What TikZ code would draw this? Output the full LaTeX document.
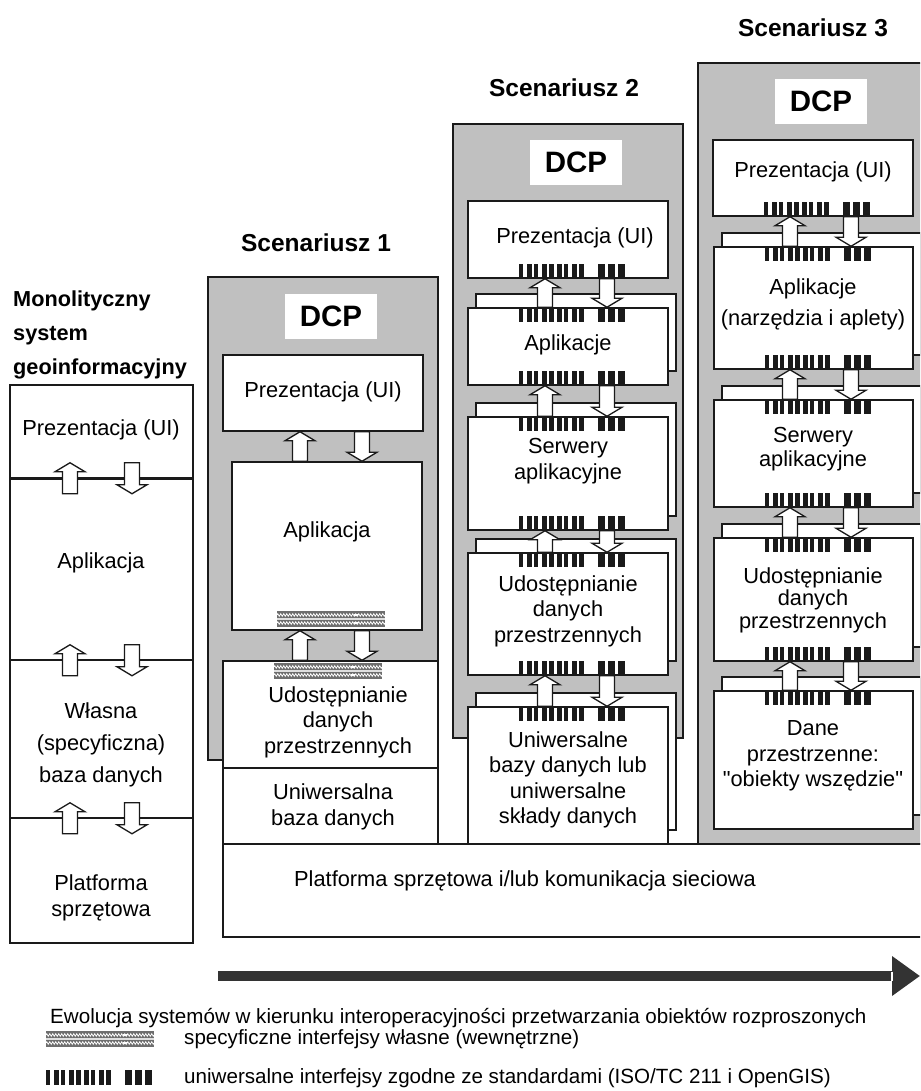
\documentclass[tikz,border=0pt]{standalone}
\usepackage{fontspec}
\setmainfont{Liberation Sans}
\newfontfamily\plainquotes{Liberation Sans}
\usetikzlibrary{calc,fit,arrows.meta,decorations.pathmorphing}

\definecolor{panel}{HTML}{C0C0C0}
\definecolor{ink}{HTML}{1A1A1A}
\definecolor{evo}{HTML}{333333}
\definecolor{rope}{HTML}{6E6E6E}

\tikzset{
  box/.style={draw=ink, line width=1.5pt, fill=white, inner sep=0pt},
  panelbox/.style={draw=ink, line width=1.8pt, fill=panel, inner sep=0pt},
  dcpbox/.style={fill=white, inner sep=0pt},
  lbl/.style={font=\fontsize{21.8}{25.5}\selectfont, align=center, inner sep=0pt},
  ttl/.style={font=\fontsize{21.7}{34}\selectfont\bfseries, inner sep=0pt},
  sttl/.style={font=\fontsize{24.5}{28}\selectfont\bfseries, inner sep=0pt},
  dcp/.style={font=\fontsize{29.5}{32}\selectfont\bfseries, inner sep=0pt},
  blockarrow/.style={draw=ink, line width=1.3pt, fill=white, line join=miter},
  legendtxt/.style={font=\fontsize{20.6}{24}\selectfont, inner sep=0pt, anchor=west},
}

% hollow block arrow pointing up: #1 base point, #2 tip point
\newcommand\uparr[2]{%
  \path #1 coordinate (ab) #2 coordinate (at);
  \draw[blockarrow] ($(ab)+(-7.5,0)$) -- ($(at)+(-7.5,9)$) -- ($(at)+(-15,9)$) -- (at)
    -- ($(at)+(15,9)$) -- ($(at)+(7.5,9)$) -- ($(ab)+(7.5,0)$) -- cycle;}
% hollow block arrow pointing down: #1 base point, #2 tip point
\newcommand\dnarr[2]{%
  \path #1 coordinate (db) #2 coordinate (dt);
  \draw[blockarrow] ($(db)+(-7.5,0)$) -- ($(dt)+(-7.5,-9)$) -- ($(dt)+(-15,-9)$) -- (dt)
    -- ($(dt)+(15,-9)$) -- ($(dt)+(7.5,-9)$) -- ($(db)+(7.5,0)$) -- cycle;}

% standard interface: bar pattern, top-left corner given
\newcommand\barcode[1]{%
  \begin{scope}[shift={#1}]
    \foreach \a/\w in {0/4,7.5/5,15/4,22.5/5,30/5,37.5/5,45/4,52.5/5,60/4.5,79/6.5,89/6.5,99/6.5}
      \fill[ink] (\a,0) rectangle ++(\w,15);
  \end{scope}}
\newcommand\barstop[1]{\barcode{($(#1.north west)+(52,0)$)}}
\newcommand\barsbot[1]{\barcode{($(#1.south west)+(52,-15)$)}}

% proprietary interface: twisted rope pattern, top-left corner given
\newcommand\rope[1]{%
  \begin{scope}[shift={#1}]
    \fill[rope] (0,0) rectangle (108,16);
    \draw[white, line width=0.7pt, decorate, decoration={zigzag, amplitude=1.3pt, segment length=3pt}] (0,4) -- (108,4);
    \draw[white, line width=0.7pt, decorate, decoration={zigzag, amplitude=1.3pt, segment length=3pt}] (0,12) -- (108,12);
    \draw[gray!25, line width=1.4pt] (0,8) -- (108,8);
    \fill[white] (77,3) rectangle (81,5) (77,11) rectangle (81,13);
  \end{scope}}

% stacked layer: back sheet offset up-right, front sheet on top
\newcommand\stacked[5]{%
  \node[box, fit={(#2+8,#3-14) (#4+8,#5-14)}] (#1-bk) {};
  \node[box, fit={(#2,#3) (#4,#5)}] (#1) {};}

\begin{document}
\begin{tikzpicture}[x=1pt,y=-1pt]
\useasboundingbox (0,0) rectangle (920,1091);
\clip (0,0) rectangle (920,1091);

% ---------- monolithic system ----------
\node[ttl, anchor=west, align=left] (mtitle) at (13,335) {Monolityczny\\system\\geoinformacyjny};
\node[box, fit={(10,385) (193,478)}] (mpres) {};
\node[box, fit={(10,478) (193,660)}] (mapp) {};
\node[box, fit={(10,660) (193,818)}] (mdb) {};
\node[box, fit={(10,818) (193,943)}] (mplat) {};
\draw[ink, line width=2.5pt] (mpres.south west) -- (mpres.south east);
\node[lbl] (mpres-t) at (101,430) {Prezentacja (UI)};
\node[lbl] (mapp-t) at (101,563) {Aplikacja};
\node[lbl, font=\fontsize{21.8}{32}\selectfont] (mdb-t) at (101,745) {Własna\\(specyficzna)\\baza danych};
\node[lbl] (mplat-t) at (101,898) {Platforma\\sprzętowa};
\foreach \n in {mpres,mapp,mdb}{
  \uparr{($(70,0 |- \n.south)+(0,15)$)}{($(70,0 |- \n.south)+(0,-16)$)}
  \dnarr{($(132,0 |- \n.south)+(0,-16)$)}{($(132,0 |- \n.south)+(0,15)$)}
}

% ---------- scenario 1 ----------
\node[sttl] (s1title) at (316,243) {Scenariusz 1};
\node[panelbox, fit={(208,277) (438,760)}] (s1panel) {};
\node[dcpbox, fit={(285,294) (377,339)}] (s1dcpbg) {};
\node[dcp] (s1dcp) at (s1dcpbg) {DCP};
\node[box, fit={(223,355) (423,431)}] (s1pres) {};
\node[box, fit={(232,462) (422,630)}] (s1app) {};
\node[box, fit={(223,661) (438,768)}] (s1share) {};
\node[box, fit={(223,768) (438,844)}] (s1db) {};
\rope{(277,611)}
\rope{(274,663)}
\node[lbl] (s1pres-t) at (323,392) {Prezentacja (UI)};
\node[lbl] (s1app-t) at (327,532) {Aplikacja};
\node[lbl] (s1share-t) at (338,722) {Udostępnianie\\danych\\przestrzennych};
\node[lbl] (s1db-t) at (333,807) {Uniwersalna\\baza danych};
\uparr{(300,0 |- s1app.north)}{(300,0 |- s1pres.south)}
\dnarr{(362,0 |- s1pres.south)}{(362,0 |- s1app.north)}
\uparr{(300,0 |- s1share.north)}{(300,0 |- s1app.south)}
\dnarr{(362,0 |- s1app.south)}{(362,0 |- s1share.north)}

% ---------- scenario 2 ----------
\node[sttl] (s2title) at (564,88) {Scenariusz 2};
\node[panelbox, fit={(453,124) (683,738)}] (s2panel) {};
\node[dcpbox, fit={(530,140) (622,185)}] (s2dcpbg) {};
\node[dcp] (s2dcp) at (s2dcpbg) {DCP};
\node[box, fit={(468,201) (668,278)}] (s2pres) {};
\stacked{s2app}{468}{308}{668}{385}
\stacked{s2srv}{468}{417}{668}{530}
\stacked{s2share}{468}{553}{668}{675}
\stacked{s2db}{468}{707}{668}{844}
\barsbot{s2pres}
\barstop{s2app} \barsbot{s2app}
\barstop{s2srv} \barsbot{s2srv}
\barstop{s2share} \barsbot{s2share}
\barstop{s2db}
\node[lbl] (s2pres-t) at (575,238) {Prezentacja (UI)};
\node[lbl] (s2app-t) at (568,345) {Aplikacje};
\node[lbl] (s2srv-t) at (568,461) {Serwery\\aplikacyjne};
\node[lbl] (s2share-t) at (568,611) {Udostępnianie\\danych\\przestrzennych};
\node[lbl] (s2db-t) at (568,780) {Uniwersalne\\bazy danych lub\\uniwersalne\\składy danych};
\foreach \hi/\lo in {s2pres/s2app, s2app/s2srv, s2srv/s2share, s2share/s2db}{
  \uparr{(545,0 |- \lo.north)}{(545,0 |- \hi.south)}
  \dnarr{(607,0 |- \hi.south)}{(607,0 |- \lo.north)}
}

% ---------- scenario 3 ----------
\node[sttl] (s3title) at (813,28) {Scenariusz 3};
\node[panelbox, fit={(698,63) (940,844)}] (s3panel) {};
\node[dcpbox, fit={(775,79) (867,124)}] (s3dcpbg) {};
\node[dcp] (s3dcp) at (s3dcpbg) {DCP};
\node[box, fit={(713,140) (913,216)}] (s3pres) {};
\stacked{s3app}{714}{247}{913}{369}
\stacked{s3srv}{714}{400}{913}{507}
\stacked{s3share}{714}{538}{913}{661}
\stacked{s3data}{714}{691}{913}{829}
\barsbot{s3pres}
\barstop{s3app} \barsbot{s3app}
\barstop{s3srv} \barsbot{s3srv}
\barstop{s3share} \barsbot{s3share}
\barstop{s3data}
\node[lbl] (s3pres-t) at (813,172) {Prezentacja (UI)};
\node[lbl, font=\fontsize{21.8}{31}\selectfont] (s3app-t) at (813,304) {Aplikacje\\(narzędzia i aplety)};
\node[lbl, font=\fontsize{21.8}{23.5}\selectfont] (s3srv-t) at (813,449) {Serwery\\aplikacyjne};
\node[lbl, font=\fontsize{21.8}{22.5}\selectfont] (s3share-t) at (813,600) {Udostępnianie\\danych\\przestrzennych};
\node[lbl] (s3data-t) at (813,756) {Dane\\przestrzenne:\\{\plainquotes "obiekty wszędzie"}};
\foreach \hi/\lo in {s3pres/s3app, s3app/s3srv, s3srv/s3share, s3share/s3data}{
  \uparr{(790,0 |- \lo.north)}{(790,0 |- \hi.south)}
  \dnarr{(851,0 |- \hi.south)}{(851,0 |- \lo.north)}
}

% ---------- shared platform ----------
\node[box, fit={(223,844) (940,937)}] (plat) {};
\node[lbl, anchor=west] (plat-t) at (294,881) {Platforma sprzętowa i/lub komunikacja sieciowa};

% ---------- evolution axis ----------
\coordinate (evostart) at (218,976);
\coordinate (evoend) at (920,976);
\draw[evo, line width=10pt, -{Triangle[length=28pt,width=38pt]}] (evostart) -- (evoend);
\draw[white, line width=1.5pt] (892,971.5) -- (892,980.5);
\node[legendtxt] (evo-t) at (50,1018) {Ewolucja systemów w kierunku interoperacyjności przetwarzania obiektów rozproszonych};

% ---------- legend ----------
\rope{(46,1031)}
\node[legendtxt] (leg1) at (184,1039) {specyficzne interfejsy własne (wewnętrzne)};
\barcode{(46,1070)}
\node[legendtxt] (leg2) at (184,1078) {uniwersalne interfejsy zgodne ze standardami (ISO/TC 211 i OpenGIS)};
\end{tikzpicture}
\end{document}
